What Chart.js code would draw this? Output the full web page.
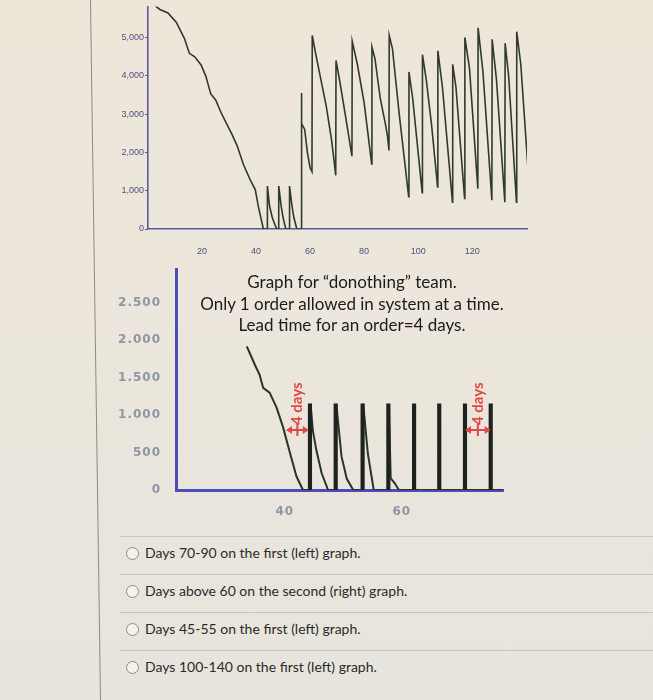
<!DOCTYPE html>
<html>
<head>
<meta charset="utf-8">
<script src="https://cdn.jsdelivr.net/npm/chart.js@4/dist/chart.umd.min.js"></script>
<style>
  html, body { margin: 0; padding: 0; }
  body { width: 653px; height: 700px; position: relative; overflow: hidden;
         background: linear-gradient(180deg, #eee6d9 0%, #ebe6dc 55%, #e6e4dc 100%);
         font-family: Lato, "Open Sans", sans-serif; }
  .frame { position: absolute; left: 95px; top: -5px; width: 1px; height: 710px;
           background: #8f8a82; transform: rotate(-0.82deg); }
  canvas { position: absolute; }
  #c1 { left: 100px; top: 0; }
  #c2 { left: 100px; top: 255px; }
  .note { position: absolute; left: 180px; top: 271px; width: 344px; text-align: center;
          font-size: 17px; line-height: 21.5px; color: #1c1c1c; }
  .sep { position: absolute; left: 120px; width: 533px; height: 1px; background: #cbc7bf; }
  .opt { position: absolute; left: 126px; font-size: 14px; color: #2b2b2b; line-height: 16px; }
  .opt span.r { display: inline-block; width: 11px; height: 11px; border: 1.5px solid #8a8a8a;
                border-radius: 50%; background: #f4f2ee; vertical-align: -2px; margin-right: 6px; }
</style>
</head>
<body>
<div class="frame"></div>
<canvas id="c1" width="440" height="255"></canvas>
<canvas id="c2" width="420" height="265"></canvas>
<div class="note">Graph for “donothing” team.<br>Only 1 order allowed in system at a time.<br>Lead time for an order=4 days.</div>

<div class="sep" style="top:536px"></div>
<div class="opt" style="top:545px"><span class="r"></span>Days 70-90 on the first (left) graph.</div>
<div class="sep" style="top:574px"></div>
<div class="opt" style="top:583px"><span class="r"></span>Days above 60 on the second (right) graph.</div>
<div class="sep" style="top:612px"></div>
<div class="opt" style="top:621px"><span class="r"></span>Days 45-55 on the first (left) graph.</div>
<div class="sep" style="top:650px"></div>
<div class="opt" style="top:659px"><span class="r"></span>Days 100-140 on the first (left) graph.</div>

<script>
// left graph: inventory over the whole run
const days1 = [2.8, 4.4, 7.4, 10.5, 13.5, 15.3, 17.2, 19.6, 21.4, 23.2, 25.1, 26.9, 29.3, 31.1, 33.0, 35.4, 37.8, 39.7, 40.9, 42.7, 44.2,
  44.2, 45.0, 46.0, 47.6, 48.4,
  48.4, 49.3, 50.0, 51.0, 52.4,
  52.4, 53.3, 54.0, 55.1, 56.7,
  56.7, 57.0, 58.0, 59.0, 60.0, 60.7,
  60.8, 62.0, 64.0, 66.0, 68.0, 69.5,
  69.6, 71.0, 73.0, 75.5,
  75.6, 77.5, 80.0, 82.8,
  82.9, 84.0, 86.0, 88.0, 88.7, 89.2,
  89.3, 90.5, 93.0, 96.5,
  96.6, 98.0, 101.5,
  101.6, 103.0, 105.0, 107.2,
  107.3, 109.0, 112.7,
  112.8, 114.0, 117.2,
  117.3, 119.0, 122.1,
  122.2, 124.0, 127.3,
  127.4, 129.0, 132.1,
  132.2, 133.5, 136.4,
  136.5, 138.0, 140.6];
const stock1 = [5820, 5730, 5640, 5390, 4970, 4585, 4500, 4290, 3990, 3530, 3360, 3060, 2720, 2470, 2170, 1670, 1290, 1030, 570, 0, 0,
  1120, 600, 300, 0, 0,
  1120, 600, 300, 0, 0,
  1120, 600, 300, 0, 0,
  3550, 2750, 2600, 2000, 1600, 1500,
  5050, 4600, 3900, 3200, 2300, 1400,
  4400, 3850, 3000, 1900,
  4900, 4300, 3300, 1700,
  4750, 4450, 3400, 2700, 2400, 2050,
  5050, 4700, 3000, 840,
  4100, 3400, 950,
  4550, 3900, 2700, 1100,
  4650, 3700, 700,
  4300, 3700, 800,
  5000, 4200, 1050,
  5250, 4100, 750,
  4950, 3900, 700,
  4850, 4000, 700,
  5150, 4300, 1650];
const xTicks1 = [20, 40, 60, 80, 100, 120];
const yTicks1 = [0, 1000, 2000, 3000, 4000, 5000];

// right graph: "donothing" team
const days2 = [33.5, 34.9, 35.7, 36.3, 37.4, 38.6, 39.7, 40.9, 42.0, 43.1, 44.3,
  44.4, 44.8, 45.4, 46.3, 47.4, 48.7,
  48.8, 49.7, 50.6, 51.7, 53.3,
  53.4, 54.2, 55.2, 57.7,
  57.8, 58.1, 58.8, 59.5, 77.3];
const stock2 = [1920, 1670, 1540, 1364, 1300, 1100, 840, 490, 180, 0, 0,
  1150, 790, 530, 224, 0, 0,
  1150, 445, 150, 0, 0,
  1150, 487, 0, 0,
  1150, 160, 90, 0, 0];
const orderDays = [44.3, 48.7, 53.3, 57.7, 62.1, 66.4, 70.8, 75.2];
const orderSize = [1150, 1150, 1150, 1150, 1150, 1150, 1150, 1150];
const xTicks2 = [40, 60];
const yTicks2 = [0, 500, 1000, 1500, 2000, 2500];
const leadMarks = [[40.2, 44.1], [70.8, 75.2]];
const leadLevel = 800;

function pts(xs, ys) { return xs.map((x, i) => ({x: x, y: ys[i]})); }
function fixTicks(list) { return scale => { scale.ticks = list.map(v => ({value: v})); }; }

new Chart(document.getElementById('c1'), {
  type: 'scatter',
  data: {
    datasets: [{
      data: pts(days1, stock1),
      showLine: true,
      borderColor: '#2f3a2c',
      borderWidth: 1.6,
      pointRadius: 0,
      tension: 0
    }]
  },
  options: {
    responsive: false,
    animation: false,
    layout: { padding: { left: 0, right: 13, top: 0, bottom: 0 } },
    plugins: { legend: { display: false }, tooltip: { enabled: false } },
    scales: {
      x: {
        type: 'linear', min: 0, max: 140.3,
        afterBuildTicks: fixTicks(xTicks1),
        afterFit: s => { s.height = 26; },
        border: { color: '#5a5aa0', width: 1.6 },
        grid: { display: false },
        ticks: { color: '#4d5080', font: { family: 'Liberation Sans', size: 9 }, padding: 9, maxRotation: 0 }
      },
      y: {
        min: 0, max: 5810,
        afterBuildTicks: fixTicks(yTicks1),
        afterFit: s => { s.width = 48; },
        border: { color: '#5a5aa0', width: 1.6 },
        grid: { drawOnChartArea: false, tickLength: 3, color: '#5a5aa0' },
        ticks: { color: '#4d5080', font: { family: 'Liberation Sans', size: 9 }, padding: 1 }
      }
    }
  }
});

const leadPlugin = {
  id: 'lead',
  beforeDraw(chart) { chart.ctx.letterSpacing = '1px'; },
  afterDatasetsDraw(chart) {
    const {ctx, scales: {x, y}} = chart;
    ctx.save();
    ctx.letterSpacing = '0px';
    ctx.strokeStyle = '#e04848';
    ctx.fillStyle = '#e04848';
    ctx.lineWidth = 2;
    leadMarks.forEach(([a, b]) => {
      const x1 = x.getPixelForValue(a), x2 = x.getPixelForValue(b), yy = y.getPixelForValue(leadLevel);
      const xc = (x1 + x2) / 2;
      ctx.beginPath();
      ctx.moveTo(x1 + 3, yy); ctx.lineTo(x2 - 3, yy);
      ctx.moveTo(xc, yy - 6); ctx.lineTo(xc, yy + 6);
      ctx.stroke();
      [[x1, 1], [x2, -1]].forEach(([px, d]) => {
        ctx.beginPath();
        ctx.moveTo(px, yy); ctx.lineTo(px + 6 * d, yy - 4); ctx.lineTo(px + 6 * d, yy + 4);
        ctx.closePath(); ctx.fill();
      });
      ctx.save();
      ctx.translate(xc, yy - 5);
      ctx.rotate(-Math.PI / 2);
      ctx.font = 'bold 15px Lato';
      ctx.textAlign = 'left';
      ctx.textBaseline = 'middle';
      ctx.fillText('4 days', 0, 0);
      ctx.restore();
    });
    ctx.restore();
  }
};

new Chart(document.getElementById('c2'), {
  type: 'bar',
  data: {
    datasets: [{
      type: 'line',
      data: pts(days2, stock2),
      borderColor: '#2b3328',
      borderWidth: 2,
      pointRadius: 0,
      tension: 0,
      order: 1
    }, {
      type: 'bar',
      data: pts(orderDays, orderSize),
      backgroundColor: '#1e221e',
      barThickness: 3.5,
      order: 0
    }]
  },
  options: {
    responsive: false,
    animation: false,
    layout: { padding: { left: 0, right: 17, top: 12, bottom: 0 } },
    plugins: { legend: { display: false }, tooltip: { enabled: false } },
    scales: {
      x: {
        type: 'linear', min: 21.4, max: 77.3, offset: false,
        afterBuildTicks: fixTicks(xTicks2),
        afterFit: s => { s.height = 30; },
        border: { color: '#4c4cb8', width: 3 },
        grid: { display: false, offset: false },
        ticks: { color: '#8e95a6', font: { family: 'DejaVu Sans', size: 12, weight: 'bold' }, padding: 7, maxRotation: 0 }
      },
      y: {
        min: 0, max: 2950,
        afterBuildTicks: fixTicks(yTicks2),
        afterFit: s => { s.width = 76; },
        border: { color: '#4c4cb8', width: 3 },
        grid: { display: false },
        ticks: {
          color: '#8e95a6', font: { family: 'DejaVu Sans', size: 12, weight: 'bold' }, padding: 7,
          callback: v => v.toLocaleString('en-US').replace(',', '.')
        }
      }
    }
  },
  plugins: [leadPlugin]
});
</script>
</body>
</html>
